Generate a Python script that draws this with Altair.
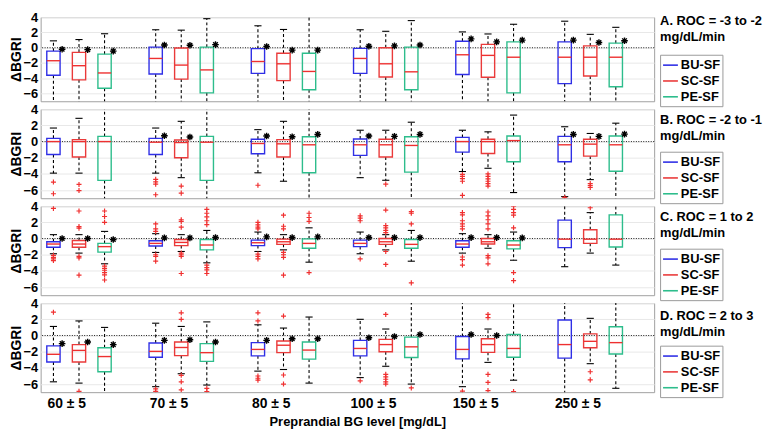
import altair as alt
import pandas as pd

FONT = "Liberation Sans"
SERIES = ["BU-SF", "SC-SF", "PE-SF"]
COLORS = ["#2f2fe6", "#ea3a3a", "#2dbd8c"]
MEDIAN_COLOR = "#ee3030"
OUTLIER_COLOR = "#f03030"
GROUPS = ["60 ± 5", "70 ± 5", "80 ± 5", "100 ± 5", "150 ± 5", "250 ± 5"]
TITLES = [["A. ROC = -3 to -2", "mg/dL/min"],
          ["B. ROC = -2 to -1", "mg/dL/min"],
          ["C. ROC = 1 to 2", "mg/dL/min"],
          ["D. ROC = 2 to 3", "mg/dL/min"]]
Y_TICKS = [-6, -4, -2, 0, 2, 4]
ZERO_LINE = [0]

# ---- Panel A: ROC -3 to -2 (order: 60 BU,SC,PE, 70 BU,SC,PE, ...) ----
A_q1 = [-3.6, -4.2, -5.3, -3.43, -4.1, -5.9, -3.35, -4.3, -5.5, -3.35, -3.82, -5.5, -3.5, -3.86, -5.9, -4.7, -3.7, -5.1]
A_med = [-1.7, -2.35, -3.3, -1.4, -2.27, -2.9, -1.8, -2.1, -3.1, -1.4, -2.1, -3.15, -0.92, -1.0, -1.24, -1.24, -1.24, -1.24]
A_q3 = [-0.44, -0.6, -0.84, 0.08, -0.04, 0.08, -0.12, -0.72, -0.72, -0.08, 0.0, 0.08, 0.84, 0.44, 0.76, 0.76, 0.24, 0.6]
A_whi = [0.9, 1.07, 1.83, 2.35, 2.3, 3.8, 2.87, 2.39, 4.5, 2.35, 2.15, 3.55, 2.07, 1.8, 3.07, 3.47, 1.75, 2.67]
A_wlo = [-8] * 18
A_out = [[] for _ in range(18)]
A_star = [-0.2, -0.24, -0.44, 0.36, 0.32, 0.4, 0.16, -0.32, -0.32, 0.2, 0.24, 0.36, 1.16, 0.76, 1.0, 1.0, 0.68, 0.92]

# ---- Panel B: ROC -2 to -1 ----
B_q1 = [-1.6, -1.9, -4.8, -1.6, -2.0, -4.8, -1.5, -1.9, -3.86, -1.7, -1.9, -3.78, -1.3, -1.47, -2.5, -2.5, -1.8, -3.67]
B_med = [0, 0, 0, -0.08, -0.12, -0.08, -0.24, -0.28, -0.4, -0.4, -0.4, -0.48, 0, 0, 0.12, -0.4, -0.32, -0.4]
B_q3 = [0.4, 0.24, 0.64, 0.4, 0.2, 0.64, 0.28, 0.24, 0.6, 0.32, 0.28, 0.6, 0.52, 0.28, 0.68, 0.64, 0.28, 0.68]
B_whi = [1.67, 2.87, 4.5, 1.67, 2.5, 4.5, 1.47, 2.5, 4.5, 1.4, 1.4, 2.39, 1.4, 1.2, 3.27, 1.83, 1.0, 2.27]
B_wlo = [-3.9, -3.9, -8, -3.9, -4.46, -8, -3.86, -4.9, -8, -4.46, -4.78, -8, -3.7, -3.3, -6.3, -6.8, -4.7, -8]
B_out = [[-5.0, -6.45], [-5.3, -6.05], [],
         [-4.66, -4.98, -5.26, -6.57], [-5.5, -6.37], [],
         [-5.4], [], [],
         [], [-5.26], [],
         [-4.06, -4.3, -4.58, -4.9, -6.65], [-4.0, -4.3, -4.6, -4.9, -5.2, -5.5], [],
         [-6.9], [-5.18, -5.42, -5.66], []]
B_star = [None, None, None, 0.72, 0.56, None, 0.68, 0.6, 0.88, 0.68, 0.64, 0.88, None, None, None, 0.88, 0.64, 0.92]

# ---- Panel C: ROC 1 to 2 ----
C_q1 = [-1.08, -1.08, -1.68, -0.92, -0.88, -1.4, -0.88, -0.72, -1.2, -1.0, -0.72, -1.2, -1.08, -0.68, -1.28, -1.12, -0.6, -1.04]
C_med = [-0.68, -0.68, -1.0, -0.6, -0.48, -0.8, -0.52, -0.4, -0.6, -0.6, -0.4, -0.72, -0.68, -0.4, -0.8, -0.08, -0.08, -0.08]
C_q3 = [-0.4, -0.24, -0.6, -0.28, -0.12, -0.12, -0.2, -0.08, -0.04, -0.2, 0.0, -0.12, -0.28, 0.0, -0.28, 2.28, 1.08, 2.92]
C_whi = [0.48, 0.48, 0.88, 0.6, 0.48, 1.0, 0.8, 0.48, 1.32, 0.8, 0.48, 1.0, 0.6, 0.48, 0.8, 4.5, 3.2, 4.5]
C_wlo = [-1.88, -1.8, -3.12, -1.72, -1.6, -3.0, -1.6, -1.4, -2.92, -1.88, -1.4, -2.8, -1.8, -1.2, -2.68, -3.48, -1.8, -3.28]
C_out = [[3.72, -2.08, -2.32, -2.52, -2.72],
         [3.4, 1.48, 1.28, -2.2, -2.4, -4.52],
         [3.4, 2.72, 2.0, -3.4, -3.68, -3.92, -4.2, -4.48, -5.12],
         [1.8, 1.2, 0.88, -2.0, -2.2, -2.8],
         [2.32, 2.12, 1.4, -1.8, -2.0, -2.2, -4.32],
         [3.6, 3.12, 2.68, 2.2, 1.72, -3.28, -3.6, -3.88, -4.32],
         [2.0, 1.68, 1.4, 1.2, -1.92, -2.2, -2.52],
         [2.88, 1.52, 1.2, -1.72, -2.0, -2.32, -4.52],
         [3.12, 2.6, 2.12, -4.2],
         [2.8, 2.52, 2.2, -2.52],
         [3.52, 1.6, 1.32, 1.0, 0.72, -1.6, -3.2],
         [3.32, 3.12, 1.8, -5.48],
         [3.2, 2.92, 2.2, 1.8, 1.52, 1.2, -2.28, -2.6, -3.28],
         [3.28, 2.8, 2.32, 1.8, 1.2, -2.12, -2.4, -3.12],
         [4.0, 3.6, 3.2, 2.88, 1.32, -4.2, -5.2],
         [], [3.8], []]
C_star = [0, 0, -0.12, 0.08, 0.08, 0.12, 0.2, 0.12, 0.2, 0.12, 0.12, 0.12, 0.12, 0.12, 0.08, None, None, None]

# ---- Panel D: ROC 2 to 3 ----
D_q1 = [-3.28, -3.28, -4.48, -2.68, -2.48, -3.2, -2.52, -2.12, -2.92, -2.52, -2.0, -2.72, -2.88, -2.08, -2.68, -2.8, -1.52, -2.28]
D_med = [-2.32, -1.84, -2.6, -1.96, -1.48, -2.12, -1.72, -1.2, -1.8, -1.6, -1.12, -1.4, -1.72, -1.12, -1.6, -1.12, -0.72, -0.88]
D_q3 = [-1.28, -1.12, -1.52, -0.92, -0.8, -1.0, -0.88, -0.68, -0.8, -0.6, -0.48, -0.2, -0.12, -0.4, 0.12, 1.92, 0.2, 1.08]
D_whi = [1.12, 1.8, 1.0, 1.52, 1.12, 1.68, 1.32, 0.92, 2.28, 2.0, 0.8, 4.5, 4.5, 0.8, 4.5, 4.5, 2.12, 4.5]
D_wlo = [-5.72, -5.88, -8, -6.32, -4.72, -6.12, -4.4, -4.2, -5.88, -5.2, -3.8, -6.0, -6.32, -3.32, -5.52, -8, -3.48, -6.52]
D_out = [[2.88], [-6.9], [],
         [-6.6, -6.9], [2.8, 2.0, -4.92, -5.72, -6.72], [-6.52, -6.92],
         [2.8, 1.8, -5.0, -5.28, -5.52], [2.4, -4.88, -6.0], [],
         [-5.6], [2.6, -4.8, -5.12, -5.4, -5.72, -6.0], [-6.48],
         [-6.88], [2.6, 2.2, -4.8, -5.8, -6.8], [-6.92],
         [], [-4.48, -5.48], []]
D_star = [-1.0, -0.8, -1.12, -0.6, -0.52, -0.8, -0.6, -0.4, -0.4, -0.28, -0.12, 0.12, 0.12, 0.0, None, None, None, None]

PANELS = [
    dict(q1=A_q1, med=A_med, q3=A_q3, whi=A_whi, wlo=A_wlo, out=A_out, star=A_star),
    dict(q1=B_q1, med=B_med, q3=B_q3, whi=B_whi, wlo=B_wlo, out=B_out, star=B_star),
    dict(q1=C_q1, med=C_med, q3=C_q3, whi=C_whi, wlo=C_wlo, out=C_out, star=C_star),
    dict(q1=D_q1, med=D_med, q3=D_q3, whi=D_whi, wlo=D_wlo, out=D_out, star=D_star),
]

W = 620
HEIGHTS = [85, 90, 90, 90]
TITLE_Y = [(4, 20), (11, 27), (11, 27), (13, 29)]
LEGEND_Y = [38, 43, 43, 43]
YMIN, YMAX = -7, 4
PLUS = "M-1,0L1,0M0,-1L0,1"
STAR = "M-1,0L1,0M0,-1L0,1M-0.7,-0.7L0.7,0.7M-0.7,0.7L0.7,-0.7"

xscale = alt.Scale(domain=[0.5, 24.5], nice=False, zero=False)
yscale = alt.Scale(domain=[YMIN, YMAX], nice=False, zero=False)

label_expr = "[" + ",".join("'%s'" % g for g in GROUPS) + "][round((datum.value - 1.5) / 4)]"


def make_panel(idx, P):
    rows, outs, stars = [], [], []
    for j in range(18):
        g, k = divmod(j, 3)
        pos = 4 * g + k + 1
        rows.append(dict(pos=pos, series=SERIES[k], q1=P["q1"][j], med=P["med"][j],
                         q3=P["q3"][j], whi=P["whi"][j], wlo=P["wlo"][j]))
        for v in P["out"][j]:
            outs.append(dict(pos=pos, v=v))
        if P["star"][j] is not None:
            stars.append(dict(pos=pos, v=P["star"][j]))
    df = pd.DataFrame(rows)
    odf = pd.DataFrame(outs if outs else [dict(pos=-10, v=-100)])
    sdf = pd.DataFrame(stars if stars else [dict(pos=-10, v=-100)])

    bottom = idx == 3
    yaxis = alt.Axis(values=Y_TICKS, title="ΔBGRI", titleFontSize=14, titleFontWeight="bold",
                     titlePadding=0, labelFontSize=13, labelFontWeight="bold", labelPadding=3,
                     ticks=False, domain=False, grid=True, gridColor="#e8e8e8",
                     labelOverlap=False, labelColor="black", titleColor="black")
    if bottom:
        xaxis = alt.Axis(values=[1.5 + 4 * i for i in range(6)], labelExpr=label_expr,
                         title="Preprandial BG level [mg/dL]", titleFontSize=13,
                         titleFontWeight="bold", titlePadding=6, titleX=320,
                         labelFontSize=14, labelFontWeight="bold", labelPadding=4,
                         labelOverlap=False,
                         ticks=False, domain=False, grid=False,
                         labelColor="black", titleColor="black")
    else:
        xaxis = None

    def X(f):
        return alt.X(f + ":Q", scale=xscale, axis=xaxis)

    def Y(f):
        return alt.Y(f + ":Q", scale=yscale, axis=yaxis)

    base = alt.Chart(df).transform_calculate(
        xl="datum.pos - 0.26", xr="datum.pos + 0.26",
        cl="datum.pos - 0.14", cr="datum.pos + 0.14")

    zero = alt.Chart(pd.DataFrame({"y": ZERO_LINE})).mark_rule(
        color="black", strokeDash=[1, 1.5], strokeWidth=0.9).encode(y=Y("y"))

    wh = base.mark_rule(color="black", strokeDash=[3, 2.5], strokeWidth=1.1, clip=True).encode(
        x=X("pos"), y=Y("q3"), y2="whi")
    wl = base.mark_rule(color="black", strokeDash=[3, 2.5], strokeWidth=1.1, clip=True).encode(
        x=X("pos"), y=Y("q1"), y2="wlo")
    ch = base.transform_filter("datum.whi <= 4").mark_rule(color="black", strokeWidth=1.1).encode(
        x=X("cl"), x2="cr", y=Y("whi"))
    cl = base.transform_filter("datum.wlo >= -7").mark_rule(color="black", strokeWidth=1.1).encode(
        x=X("cl"), x2="cr", y=Y("wlo"))

    box = base.mark_rect(fillOpacity=0, strokeWidth=1.4).encode(
        x=X("xl"), x2="xr", y=Y("q1"), y2="q3",
        stroke=alt.Stroke("series:N", scale=alt.Scale(domain=SERIES, range=COLORS),
                          legend=alt.Legend(title=None, orient="none", legendX=W + 6,
                                            legendY=LEGEND_Y[idx],
                                            strokeColor="#9a9a9a", fillColor="white", padding=2,
                                            labelFont=FONT, labelFontSize=13, labelFontWeight="bold",
                                            labelColor="black", labelOffset=2,
                                            symbolType="stroke", symbolSize=225,
                                            symbolStrokeWidth=1.6, rowPadding=0)))
    med = base.mark_rule(color=MEDIAN_COLOR, strokeWidth=1.4).encode(
        x=X("xl"), x2="xr", y=Y("med"))

    outl = alt.Chart(odf).mark_point(shape=PLUS, size=26, color=OUTLIER_COLOR, filled=False,
                                     strokeWidth=1.2, opacity=1, clip=True).encode(
        x=X("pos"), y=Y("v"))
    st = alt.Chart(sdf).transform_calculate(xs="datum.pos + 0.34").mark_point(
        shape=STAR, size=45, color="black", filled=False, strokeWidth=1.4, opacity=1, clip=True).encode(
        x=X("xs"), y=Y("v"))

    t1 = alt.Chart(pd.DataFrame({"t": [TITLES[idx][0]]})).mark_text(
        align="left", baseline="middle", font=FONT, fontSize=13, fontWeight="bold", color="black").encode(
        x=alt.value(W + 6), y=alt.value(TITLE_Y[idx][0]), text="t:N")
    t2 = alt.Chart(pd.DataFrame({"t": [TITLES[idx][1]]})).mark_text(
        align="left", baseline="middle", font=FONT, fontSize=13, fontWeight="bold", color="black").encode(
        x=alt.value(W + 6), y=alt.value(TITLE_Y[idx][1]), text="t:N")

    return alt.layer(zero, wh, wl, ch, cl, box, med, outl, st, t1, t2).properties(
        width=W, height=HEIGHTS[idx])


chart = alt.vconcat(*[make_panel(i, P) for i, P in enumerate(PANELS)], spacing=8, bounds="flush")
chart = chart.resolve_scale(stroke="independent").resolve_legend(stroke="independent")
chart = chart.properties(padding={"left": 0, "top": 0, "right": 0, "bottom": 0}, background="white")
chart = chart.configure_view(stroke="#a0a0a0", strokeWidth=1).configure_axis(
    labelFont=FONT, titleFont=FONT)

chart.save("out.html", embed_options={"renderer": "svg", "actions": False})
